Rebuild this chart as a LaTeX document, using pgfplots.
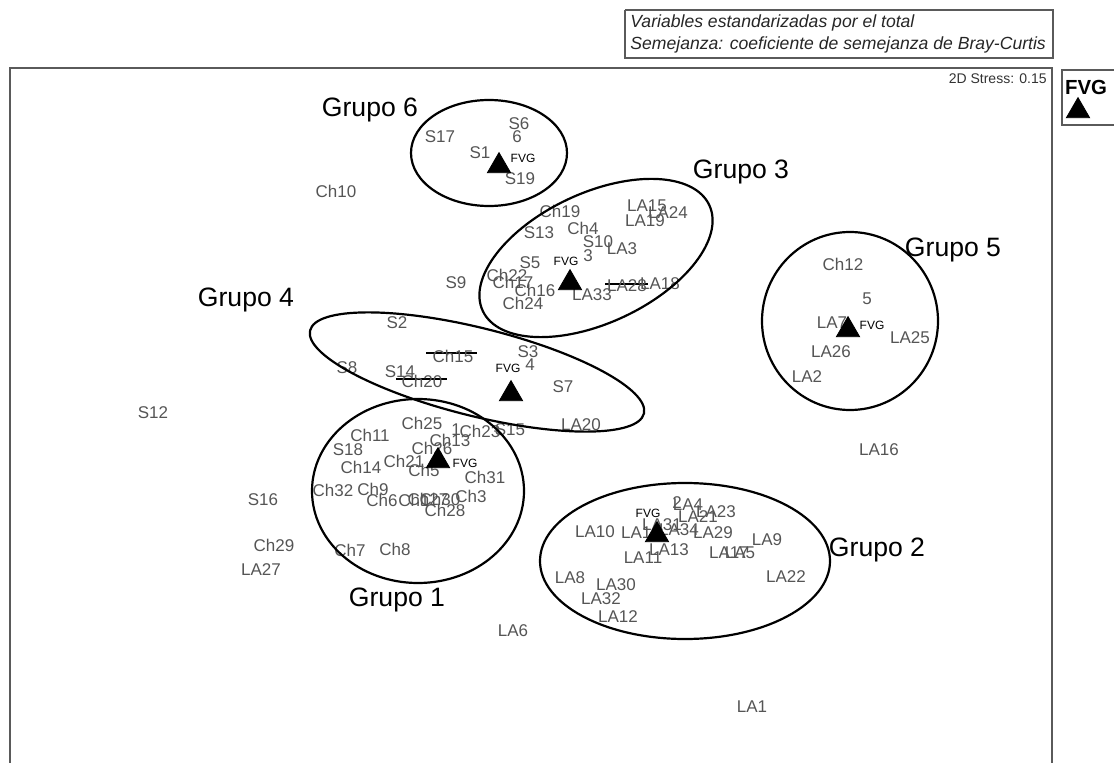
\documentclass[border=0pt]{standalone}
\usepackage{fontspec}
\setmainfont{Liberation Sans}
\usepackage{pgfplots}
\pgfplotsset{compat=1.18}
\definecolor{labgray}{HTML}{555555}
\definecolor{framegray}{HTML}{5a5a5a}
\begin{document}
\begin{tikzpicture}
\useasboundingbox (0,0) rectangle (557pt,381pt);
\begin{axis}[scale only axis, width=557pt, height=381pt,
  xmin=0, xmax=1114, ymin=0, ymax=762, y dir=reverse,
  hide axis, clip=false]
% frames
\addplot[framegray, line width=1pt] coordinates {(10,780) (10,68) (1052,68) (1052,780)};
\addplot[framegray, line width=0.8pt] coordinates {(625,10) (1053,10) (1053,58) (625,58) (625,10)};
\addplot[framegray, line width=0.8pt] coordinates {(1125,70) (1062,70) (1062,125) (1125,125)};
% sample labels
\addplot[only marks, mark=none, nodes near coords, point meta=explicit symbolic,
  nodes near coords style={anchor=center, inner sep=0pt, font=\fontsize{8.5}{9}\selectfont, text=labgray}]
  table[meta=lab] {
x y lab
336 191 Ch10
440 137 S17
519 124 S6
480 153 S1
520 179 S19
560 211 Ch19
647 206 LA15
668 213 LA24
645 221 LA19
539 233 S13
583 228 Ch4
598 242 S10
622 249 LA3
530 263 S5
507 275 Ch22
513 282 Ch17
535 290 Ch16
523 303 Ch24
592 295 LA33
627 286 LA28
660 284 LA18
456 283 S9
397 323 S2
453 356 Ch15
528 352 S3
347 368 S8
400 372 S14
422 381 Ch20
563 387 S7
153 413 S12
422 423 Ch25
450 440 Ch13
480 431 Ch23
510 430 S15
581 425 LA20
370 435 Ch11
348 450 S18
432 448 Ch26
404 461 Ch21
424 470 Ch5
361 467 Ch14
485 477 Ch31
333 490 Ch32
373 489 Ch9
382 500 Ch6
414 500 Ch1
428 499 Ch27
440 499 Ch30
471 496 Ch3
445 510 Ch28
350 550 Ch7
395 549 Ch8
263 500 S16
274 545 Ch29
261 570 LA27
513 631 LA6
879 450 LA16
595 532 LA10
688 505 LA4
716 512 LA23
698 517 LA21
662 525 LA31
679 530 LA34
641 533 LA14
713 533 LA29
767 540 LA9
643 558 LA11
669 550 LA13
729 553 LA17
740 553 LA5
786 577 LA22
570 578 LA8
616 585 LA30
601 599 LA32
618 617 LA12
752 707 LA1
843 264 Ch12
832 323 LA7
831 352 LA26
910 338 LA25
807 377 LA2
};
% group numbers
\addplot[only marks, mark=none, nodes near coords, point meta=explicit symbolic,
  nodes near coords style={anchor=center, inner sep=0pt, font=\fontsize{8.5}{9}\selectfont, text=labgray}]
  table[meta=lab] {
x y lab
517 137 6
588 256 3
530 365 4
456 430 1
677 503 2
867 299 5
};
% FVG labels
\addplot[only marks, mark=none, nodes near coords, point meta=explicit symbolic,
  nodes near coords style={anchor=center, inner sep=0pt, font=\fontsize{6}{7}\selectfont, text=black}]
  table[meta=lab] {
x y lab
523 158 FVG
566 261 FVG
508 368 FVG
465 463 FVG
648 513 FVG
872 325 FVG
};
% centroids
\addplot[only marks, mark=triangle*, mark size=6.7pt, black] coordinates {(499,166) (570,283) (511,394) (438,461) (657,535) (848,330)};
\addplot[only marks, mark=triangle*, mark size=6.7pt, black] coordinates {(1078,111)};
% strike lines
\addplot[black, line width=0.8pt] coordinates {(426,353) (477,353)};
\addplot[black, line width=0.8pt] coordinates {(396,379) (447,379)};
\addplot[black, line width=0.8pt] coordinates {(605,284) (648,284)};
% texts
\node[anchor=west, inner sep=0pt, font=\fontsize{8.8}{10}\selectfont\itshape, text=black!85] at (axis cs:630,23) {Variables estandarizadas por el total};
\node[anchor=west, inner sep=0pt, font=\fontsize{8.8}{10}\selectfont\itshape, text=black!85] at (axis cs:630,45) {Semejanza: coeficiente de semejanza de Bray-Curtis};
\node[anchor=east, inner sep=0pt, font=\fontsize{7}{8}\selectfont, text=black!80] at (axis cs:1047,79) {2D Stress: 0.15};
\node[inner sep=0pt, font=\fontsize{10.2}{11}\selectfont\bfseries] at (axis cs:1086,87) {FVG};
\node[inner sep=0pt, font=\fontsize{13.3}{14}\selectfont] at (axis cs:370,110) {Grupo 6};
\node[inner sep=0pt, font=\fontsize{13.3}{14}\selectfont] at (axis cs:741,172) {Grupo 3};
\node[inner sep=0pt, font=\fontsize{13.3}{14}\selectfont] at (axis cs:953,250) {Grupo 5};
\node[inner sep=0pt, font=\fontsize{13.3}{14}\selectfont] at (axis cs:246,300) {Grupo 4};
\node[inner sep=0pt, font=\fontsize{13.3}{14}\selectfont] at (axis cs:397,600) {Grupo 1};
\node[inner sep=0pt, font=\fontsize{13.3}{14}\selectfont] at (axis cs:877,550) {Grupo 2};
% ellipse centres
\coordinate (g6) at (axis cs:489,153);
\coordinate (g3) at (axis cs:596,258);
\coordinate (g4) at (axis cs:477,372);
\coordinate (g1) at (axis cs:418,491);
\coordinate (g2) at (axis cs:685,561);
\coordinate (g5) at (axis cs:850,321);
\end{axis}
\draw[line width=1.1pt] (g6) ellipse [x radius=39pt, y radius=26.5pt];
\draw[line width=1.1pt, rotate around={25:(g3)}] (g3) ellipse [x radius=62.5pt, y radius=32.5pt];
\draw[line width=1.1pt, rotate around={-14:(g4)}] (g4) ellipse [x radius=86pt, y radius=22pt];
\draw[line width=1.1pt] (g1) ellipse [x radius=53pt, y radius=46pt];
\draw[line width=1.1pt] (g2) ellipse [x radius=72.5pt, y radius=39pt];
\draw[line width=1.1pt] (g5) ellipse [x radius=44pt, y radius=44.5pt];
\end{tikzpicture}
\end{document}
